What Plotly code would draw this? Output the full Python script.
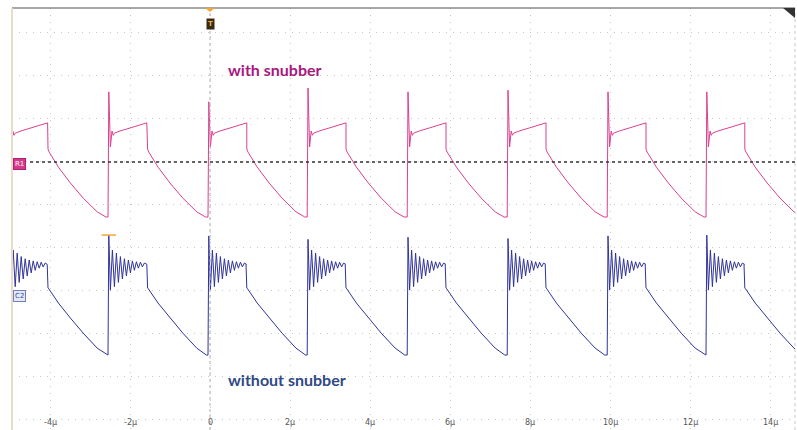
import numpy as np
import plotly.graph_objects as go

# ---- timing (microseconds) ----
rise_t = [-5.03, -2.55, -0.05, 2.43, 4.93, 7.43, 9.93, 12.40]
fall_t = [-4.07, -1.58, 0.90, 3.38, 5.88, 8.38, 10.88, 13.35]

# ---- with snubber (vertical divisions, 0 = reference line) ----
pink_peak = [1.40, 1.63, 1.40, 1.72, 1.63, 1.67, 1.63, 1.63]
pink_edge_dt = [0.02, 0.06, 0.10, 0.13]
pink_edge_v = [None, 0.35, 0.72, 0.62]          # first entry -> cycle peak
pink_plateau_dt = [0.16, 0.30, 0.55, 0.80, 0.97]
pink_plateau_v = [0.67, 0.72, 0.79, 0.86, 0.91]
pink_decay_dt = [0.02, 0.05, 0.28, 0.58, 0.90, 1.25, 1.47]
pink_decay_v = [0.30, 0.23, -0.12, -0.49, -0.84, -1.16, -1.28]

# ---- without snubber ----
blue_peak = [-1.75, -1.70, -1.72, -1.80, -1.75, -1.78, -1.72, -1.70]
blue_ring_v = [-2.98, -2.05, -2.90, -2.12, -2.80, -2.20, -2.72, -2.25, -2.65,
               -2.28, -2.58, -2.30, -2.52, -2.32, -2.47, -2.33, -2.44, -2.35, -2.38]
blue_ring_start, blue_ring_step = 0.06, 0.05
blue_decay_dt = [0.02, 0.04, 0.28, 0.58, 0.90, 1.25, 1.49]
blue_decay_v = [-2.93, -2.95, -3.28, -3.63, -3.98, -4.33, -4.49]

# ---- axis ticks ----
tick_vals = [-4, -2, 0, 2, 4, 6, 8, 10, 12, 14]
tick_text = ["-4µ", "-2µ", "0", "2µ", "4µ", "6µ", "8µ", "10µ", "12µ", "14µ"]

X_RANGE = [-4.95, 14.625]
Y_RANGE = [-6.233, 3.581]

W, H = 797, 430
ML, MR, MT, MB = 12, 2, 8, 0
PW, PH = W - ML - MR, H - MT - MB


def px(x):
    return (x - ML) / PW


def py(y):
    return (H - MB - y) / PH


def build_pink():
    xs, ys = [], []
    for i, r in enumerate(rise_t):
        f = fall_t[i]
        xs.append(r)
        ys.append(pink_decay_v[-1])
        for dt, v in zip(pink_edge_dt, pink_edge_v):
            xs.append(r + dt)
            ys.append(pink_peak[i] if v is None else v)
        for dt, v in zip(pink_plateau_dt, pink_plateau_v):
            xs.append(r + dt)
            ys.append(v)
        for dt, v in zip(pink_decay_dt, pink_decay_v):
            xs.append(f + dt)
            ys.append(v)
    return xs, ys


def build_blue():
    xs, ys = [], []
    for i, r in enumerate(rise_t):
        f = fall_t[i]
        xs.append(r)
        ys.append(blue_decay_v[-1])
        xs.append(r + 0.02)
        ys.append(blue_peak[i])
        for k, v in enumerate(blue_ring_v):
            xs.append(r + blue_ring_start + k * blue_ring_step)
            ys.append(v)
        xs.append(f)
        ys.append(blue_ring_v[-1])
        for dt, v in zip(blue_decay_dt, blue_decay_v):
            xs.append(f + dt)
            ys.append(v)
    return xs, ys


pink_x, pink_y = build_pink()
blue_x, blue_y = build_blue()

fig = go.Figure()
fig.add_trace(go.Scatter(x=pink_x, y=pink_y, mode="lines",
                         line=dict(color="#dc3f90", width=1),
                         hoverinfo="skip", showlegend=False))
fig.add_trace(go.Scatter(x=blue_x, y=blue_y, mode="lines",
                         line=dict(color="#30339a", width=1),
                         hoverinfo="skip", showlegend=False))

shapes = []
# reference level line
shapes.append(dict(type="line", xref="paper", yref="y", x0=px(30), x1=1, y0=0, y1=0,
                   line=dict(color="#333333", width=1.4, dash="dot")))
# trigger position line
shapes.append(dict(type="line", xref="x", yref="paper", x0=0, x1=0, y0=0, y1=1,
                   line=dict(color="#b0b0b0", width=1, dash="dot")))
# frame: top and left ruler
shapes.append(dict(type="line", xref="paper", yref="paper", x0=0, x1=1, y0=1, y1=1,
                   line=dict(color="#8a8a8a", width=1.6)))
shapes.append(dict(type="line", xref="paper", yref="paper", x0=0, x1=0, y0=0, y1=1,
                   line=dict(color="#eddcc4", width=2)))
shapes.append(dict(type="line", xref="paper", yref="paper", x0=1, x1=1, y0=0, y1=1,
                   line=dict(color="#c8c8c8", width=1, dash="dot")))
# top-right corner flag
shapes.append(dict(type="path", xref="paper", yref="paper",
                   path=f"M {px(783)} {py(8)} L {px(795)} {py(8)} L {px(795)} {py(18)} Z",
                   fillcolor="#333333", line=dict(width=0)))
# cursor marker at the unsnubbed spike top
cx = rise_t[1] + 0.02
shapes.append(dict(type="line", xref="x", yref="y", x0=cx - 0.18, x1=cx + 0.18,
                   y0=blue_peak[1], y1=blue_peak[1],
                   line=dict(color="#f0a73a", width=1.5)))
# trigger arrow
shapes.append(dict(type="path", xref="paper", yref="paper",
                   path=f"M {px(205)} {py(8)} L {px(215)} {py(8)} L {px(210)} {py(12)} Z",
                   fillcolor="#f0a73a", line=dict(width=0)))

annotations = [
    dict(text="<b>with snubber</b>", x=(275 - 210) / 40, y=(162 - 70) / 43,
         xref="x", yref="y", showarrow=False,
         font=dict(family="Lato, Open Sans, sans-serif", size=16, color="#a8187f")),
    dict(text="<b>without snubber</b>", x=(287 - 210) / 40, y=(162 - 380) / 43,
         xref="x", yref="y", showarrow=False,
         font=dict(family="Lato, Open Sans, sans-serif", size=16, color="#2f4a86")),
    dict(text="R1", x=px(13), y=py(164), xref="paper", yref="paper",
         xanchor="left", showarrow=False, bgcolor="#d8388a", bordercolor="#b02070",
         borderpad=1, font=dict(family="DejaVu Sans", size=7, color="#ffffff")),
    dict(text="C2", x=px(13), y=py(302), xref="paper", yref="paper",
         xanchor="left", showarrow=False, bgcolor="#e4e9f7", bordercolor="#6f7fbf",
         borderpad=1, font=dict(family="DejaVu Sans", size=7, color="#3a4a9a")),
    dict(text="<b>T</b>", x=0, y=py(18), xref="x", yref="paper",
         showarrow=False, bgcolor="#3b2a12", borderpad=1,
         font=dict(family="DejaVu Sans", size=7, color="#f0b040")),
]
for tv, tt in zip(tick_vals, tick_text):
    annotations.append(dict(text=tt, x=tv, y=py(429), xref="x", yref="paper",
                            yanchor="bottom", showarrow=False,
                            font=dict(family="DejaVu Sans", size=8, color="#555555")))

fig.update_layout(
    width=W, height=H,
    margin=dict(l=ML, r=MR, t=MT, b=MB),
    paper_bgcolor="#ffffff", plot_bgcolor="#ffffff",
    shapes=shapes, annotations=annotations,
    xaxis=dict(range=X_RANGE, tickvals=tick_vals, showticklabels=False,
               showgrid=True, gridcolor="#c8c8c8", griddash="1px,6px", gridwidth=1,
               zeroline=False, showline=False, ticks=""),
    yaxis=dict(range=Y_RANGE, dtick=1, tick0=0, showticklabels=False,
               showgrid=True, gridcolor="#c8c8c8", griddash="1px,6px", gridwidth=1,
               zeroline=False, showline=False, ticks=""),
)

fig.write_html("out.html")
